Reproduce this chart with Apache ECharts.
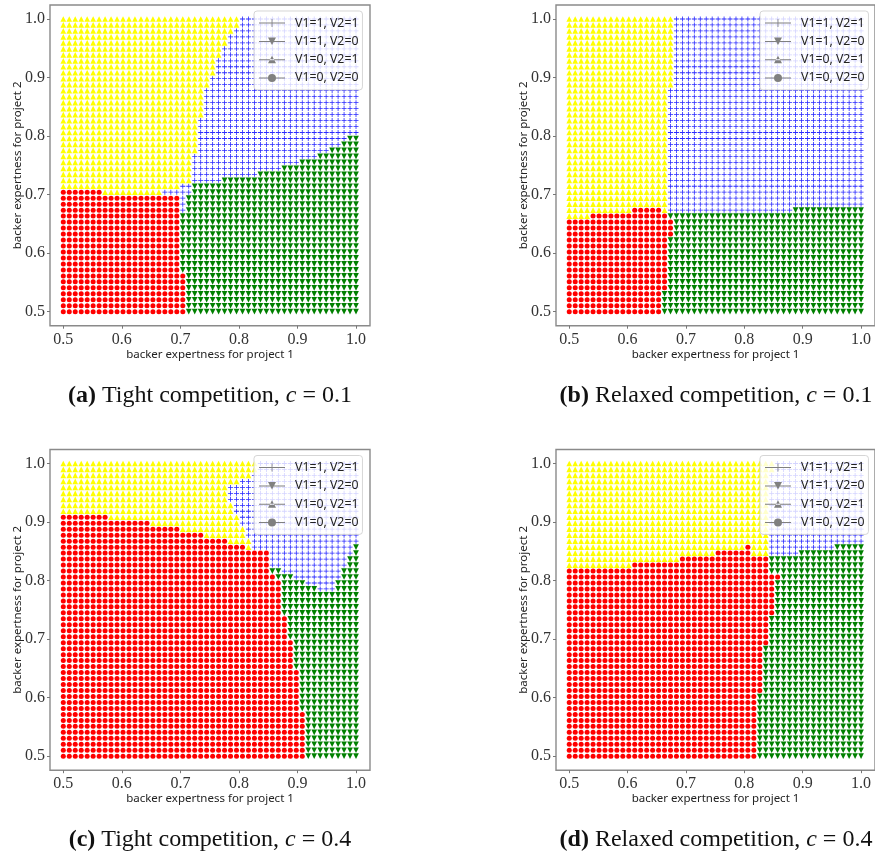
<!DOCTYPE html>
<html>
<head>
<meta charset="utf-8">
<style>html,body{margin:0;padding:0;background:#fff;overflow:hidden}#c{width:875px;height:857px}</style>
<script src="https://cdn.jsdelivr.net/npm/echarts@6/dist/echarts.min.js"></script>
</head>
<body>
<div id="c"></div>
<script>
// Parameter grid shared by both axes of every panel
const gridValues = [0.5,0.5102,0.5204,0.5306,0.5408,0.551,0.5612,0.5714,0.5816,0.5918,0.602,0.6122,0.6224,0.6327,0.6429,0.6531,0.6633,0.6735,0.6837,0.6939,0.7041,0.7143,0.7245,0.7347,0.7449,0.7551,0.7653,0.7755,0.7857,0.7959,0.8061,0.8163,0.8265,0.8367,0.8469,0.8571,0.8673,0.8776,0.8878,0.898,0.9082,0.9184,0.9286,0.9388,0.949,0.9592,0.9694,0.9796,0.9898,1.0];
const tickValues = [0.5,0.6,0.7,0.8,0.9,1.0];
const outcomeNames = ['V1=1, V2=1','V1=1, V2=0','V1=0, V2=1','V1=0, V2=0'];
const xAxisName = 'backer expertness for project 1';
const yAxisName = 'backer expertness for project 2';

// Outcome map of each panel, bottom row upward: [number of rows, runs across the row].
// R/Y/B/G = V1=0,V2=0 / V1=0,V2=1 / V1=1,V2=1 / V1=1,V2=0; the number is the column where the run ends.
const rowsTightLow = [[7,'R21 G50'],[10,'R20 G50'],[3,'R20 B21 G50'],[1,'R7 Y17 B22 G50'],[1,'Y20 B22 G50'],[1,'Y22 B27 G50'],[1,'Y22 B33 G50'],[1,'Y22 B37 G50'],[1,'Y22 B40 G50'],[1,'Y22 B43 G50'],[1,'Y23 B45 G50'],[1,'Y23 B47 G50'],[1,'Y23 B48 G50'],[3,'Y23 B50'],[5,'Y24 B50'],[2,'Y25 B50'],[3,'Y26 B50'],[2,'Y27 B50'],[2,'Y28 B50'],[1,'Y29 B50'],[2,'Y30 B50']];
const rowsRelaxedLow = [[4,'R16 G50'],[9,'R17 G50'],[3,'R18 G50'],[1,'Y4 R17 G50'],[1,'Y11 R16 Y17 B38 G50'],[20,'Y17 B50'],[12,'Y18 B50']];
const rowsTightHigh = [[8,'R41 G50'],[7,'R40 G50'],[5,'R39 G50'],[4,'R38 G50'],[4,'R37 G50'],[1,'R37 G43 B46 G50'],[1,'R37 G41 B46 G50'],[1,'R36 G39 B47 G50'],[1,'R35 G37 B47 G50'],[2,'R35 B48 G50'],[1,'R35 B49 G50'],[1,'R31 Y32 B49 G50'],[1,'R28 Y32 B50'],[1,'R24 Y31 B50'],[1,'R20 Y31 B50'],[1,'R15 Y30 B50'],[1,'R8 Y30 B50'],[2,'Y29 B50'],[3,'Y28 B50'],[1,'Y30 B50'],[1,'Y32 B50'],[2,'Y33 B50']];
const rowsRelaxedHigh = [[11,'R32 G50'],[8,'R33 G50'],[5,'R34 G50'],[6,'R35 G50'],[1,'R36 G50'],[1,'R34 G50'],[1,'Y11 R34 G50'],[1,'Y19 R34 G50'],[1,'Y25 R31 Y34 B39 G50'],[1,'Y30 R31 Y34 B45 G50'],[12,'Y34 B50'],[2,'Y35 B50']];

const captions = [
  '{b|(a)} Tight competition, {i|c} = 0.1',
  '{b|(b)} Relaxed competition, {i|c} = 0.1',
  '{b|(c)} Tight competition, {i|c} = 0.4',
  '{b|(d)} Relaxed competition, {i|c} = 0.4'
];

const plusPath = 'path://M2.1 0H2.9V2.1H5V2.9H2.9V5H2.1V2.9H0V2.1H2.1Z';
const codes = ['B','G','Y','R'];
const markStyle = {
  B:{symbol:plusPath,size:5,rotate:0,color:'#2a2aff'},
  G:{symbol:'triangle',size:5.7,rotate:180,color:'#008000'},
  Y:{symbol:'triangle',size:5.7,rotate:0,color:'#ffff00'},
  R:{symbol:'circle',size:5,rotate:0,color:'#ff0000'}
};
const lineBar = 'M0 3.5H26V4.5H0Z';
const legendIcons = [
  'path://'+lineBar+'M12.6 0H13.4V8H12.6Z',
  'path://'+lineBar+'M9 0H17L13 7.5Z',
  'path://M0 3.5H26V4.5H0ZM9 7.5H17L13 0Z',
  'path://'+lineBar+'M13 0A4 4 0 1 1 13 8A4 4 0 1 1 13 0Z'
];

const panels = [
  {rows:rowsTightLow,left:50,top:5,capX:210,capY:396},
  {rows:rowsRelaxedLow,left:556,top:5,capX:716,capY:396},
  {rows:rowsTightHigh,left:50,top:449.5,capX:210,capY:840},
  {rows:rowsRelaxedHigh,left:556,top:449.5,capX:716,capY:840}
];

function expand(rows){
  const pts = {B:[],G:[],Y:[],R:[]};
  let j = 0;
  rows.forEach(([count,spec])=>{
    for(let k=0;k<count;k++,j++){
      let i = 0;
      spec.split(' ').forEach(run=>{
        const code = run[0], end = +run.slice(1);
        for(;i<end;i++) pts[code].push([gridValues[i],gridValues[j]]);
      });
    }
  });
  return pts;
}

const option = {
  animation:false, backgroundColor:'#fff',
  grid:[], xAxis:[], yAxis:[], series:[], legend:[], title:[]
};
const labelFont = {fontFamily:'"Liberation Serif"',fontSize:16,color:'#333'};
const nameFont = {fontFamily:'"Noto Sans"',fontSize:11.5,color:'#222'};
const fmt = v=>(+v).toFixed(1);
panels.forEach((p,idx)=>{
  option.grid.push({left:p.left,top:p.top,width:320,height:320.7,show:true,borderColor:'#8a8a8a',borderWidth:1.4,backgroundColor:'#fff'});
  option.xAxis.push({type:'value',gridIndex:idx,min:0.4773,max:1.0239,
    name:xAxisName,nameLocation:'middle',nameGap:23,nameMoveOverlap:false,nameTextStyle:nameFont,
    splitLine:{show:false},axisLine:{show:false},
    axisTick:{show:true,length:3,lineStyle:{color:'#777'},customValues:tickValues},
    axisLabel:{...labelFont,margin:6,showMinLabel:true,showMaxLabel:true,customValues:tickValues,formatter:fmt}});
  option.yAxis.push({type:'value',gridIndex:idx,min:0.4761,max:1.0239,
    name:yAxisName,nameLocation:'middle',nameGap:26,nameMoveOverlap:false,nameTextStyle:nameFont,
    splitLine:{show:false},axisLine:{show:false},
    axisTick:{show:true,length:3,lineStyle:{color:'#777'},customValues:tickValues},
    axisLabel:{...labelFont,margin:5,customValues:tickValues,formatter:fmt}});
  const pts = expand(p.rows);
  codes.forEach((code,k)=>{
    const m = markStyle[code];
    option.series.push({type:'scatter',name:outcomeNames[k],xAxisIndex:idx,yAxisIndex:idx,
      symbol:m.symbol,symbolSize:m.size,symbolRotate:m.rotate,
      itemStyle:{color:m.color,opacity:1},data:pts[code],clip:false,silent:true,z:2});
  });
  option.legend.push({orient:'vertical',left:p.left+204,top:p.top+6,padding:[5,4,5,5],
    itemWidth:26,itemHeight:8,itemGap:4.3,selectedMode:false,
    backgroundColor:'rgba(255,255,255,0.8)',borderColor:'rgba(204,204,204,0.8)',borderWidth:1,borderRadius:3,
    textStyle:{fontFamily:'"Noto Sans"',fontSize:12.3,color:'#222',lineHeight:14,padding:[0,0,0,5]},z:5,
    data:outcomeNames.map((n,k)=>({name:n,icon:legendIcons[k],itemStyle:{color:'#808080',borderWidth:0}}))});
  option.title.push({text:captions[idx],left:p.capX,top:p.capY,textAlign:'center',textVerticalAlign:'middle',padding:0,
    textStyle:{fontFamily:'"Liberation Serif"',fontSize:24,fontWeight:'normal',color:'#111',
      rich:{b:{fontFamily:'"Liberation Serif"',fontSize:24,fontWeight:'bold',color:'#111'},
            i:{fontFamily:'"Liberation Serif"',fontSize:24,fontStyle:'italic',color:'#111'}}}});
});
echarts.init(document.getElementById('c'),null,{renderer:'canvas'}).setOption(option);
</script>
</body>
</html>
